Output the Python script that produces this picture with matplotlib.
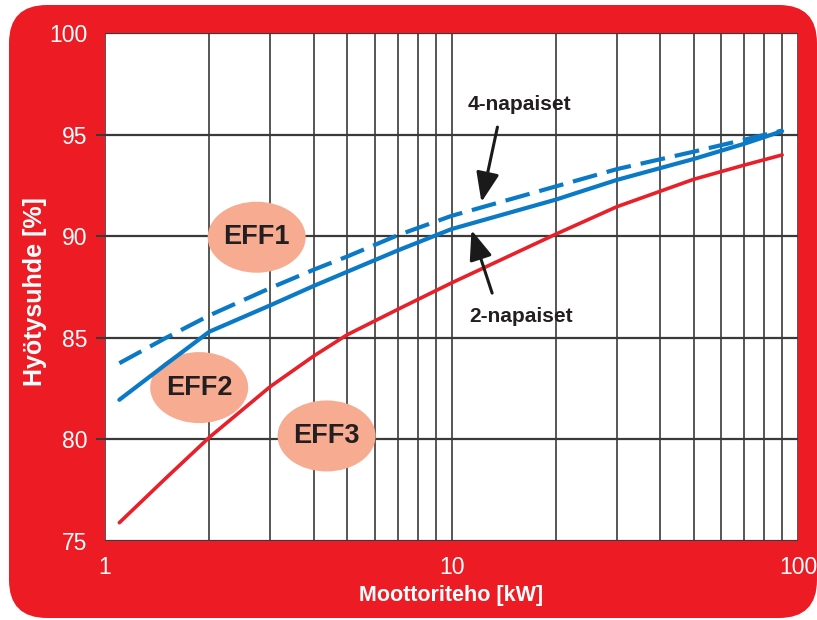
import matplotlib
matplotlib.use("Agg")
import matplotlib.pyplot as plt
from matplotlib.patches import Ellipse, FancyBboxPatch
from matplotlib.ticker import FixedLocator, NullFormatter

# Hyötysuhdeluokat EFF1 / EFF2 / EFF3 moottoritehon funktiona
teho = [1.1, 1.5, 2, 3, 4, 5, 7, 10, 20, 30, 50, 70, 90]
eff3_raja = [75.9, 78.1, 80.1, 82.6, 84.1, 85.15, 86.4, 87.7, 90.1, 91.45, 92.8, 93.5, 94.0]
napaiset_2 = [81.95, 83.7, 85.3, 86.6, 87.55, 88.25, 89.3, 90.35, 91.8, 92.77, 93.8, 94.55, 95.17]
napaiset_4 = [83.75, 85.0, 86.1, 87.45, 88.35, 89.0, 90.05, 91.0, 92.45, 93.3, 94.16, 94.75, 95.2]

luokat = ["EFF1", "EFF2", "EFF3"]
luokka_x = [2.74, 1.87, 4.36]
luokka_y = [89.95, 82.55, 80.17]

y_ticks = [75, 80, 85, 90, 95, 100]
x_ticks = [1, 10, 100]
x_tick_labels = ["1", "10", "100"]

PUNAINEN = "#ED1C24"
SININEN = "#0A7AC6"
LOHI = "#F7AB91"
HARMAA = "#3A3A3A"
FONTIT = ["Liberation Sans", "DejaVu Sans"]

W, H = 817, 620
fig = plt.figure(figsize=(W / 100, H / 100), dpi=100)

# punainen pyöristetty kehys taustalle (pikselikoordinaatit)
bg = fig.add_axes([0, 0, 1, 1], zorder=-1)
bg.set_xlim(0, W)
bg.set_ylim(H, 0)
bg.axis("off")
bg.add_patch(FancyBboxPatch((9, 5), 808, 613, boxstyle="round,pad=0,rounding_size=38",
                            facecolor=PUNAINEN, edgecolor="none"))

ax = fig.add_axes([105 / W, 1 - 541 / H, 693 / W, 508 / H])
ax.set_facecolor("white")
ax.set_xscale("log")
ax.set_xlim(1, 100)
ax.set_ylim(75, 100)
for s in ax.spines.values():
    s.set_visible(False)

ax.set_yticks(y_ticks)
ax.set_xticks(x_ticks)
ax.set_xticklabels(x_tick_labels)
ax.xaxis.set_minor_locator(FixedLocator([2, 3, 4, 5, 6, 7, 8, 9, 20, 30, 40, 50, 60, 70, 80, 90]))
ax.xaxis.set_minor_formatter(NullFormatter())

ax.tick_params(axis="x", which="both", length=0, pad=11, labelsize=16.5, labelcolor="white")
ax.tick_params(axis="y", length=6.5, width=1.5, color=HARMAA, pad=6, labelsize=16.5, labelcolor="white")
for lab in ax.get_xticklabels() + ax.get_yticklabels():
    lab.set_family(FONTIT)
yt = ax.yaxis.get_major_ticks()
yt[0].tick1line.set_visible(False)
yt[-1].tick1line.set_visible(False)

ax.grid(True, axis="y", color=HARMAA, lw=1.6, zorder=1)
ax.grid(True, axis="x", which="both", color=HARMAA, lw=1.2, zorder=1)
ax.set_axisbelow(True)

ax.set_xlabel("Moottoriteho [kW]", color="white", fontsize=15.5, fontweight="bold",
              family=FONTIT, va="center")
ax.xaxis.set_label_coords(0.5, (541 - 595) / 508)
ax.set_ylabel("Hyötysuhde [%]", color="white", fontsize=18, fontweight="bold",
              family=FONTIT, va="center")
ax.yaxis.set_label_coords((35 - 105) / 693, (541 - 292) / 508)

# luokkien soikiot
fig.canvas.draw()
to_axes = ax.transData + ax.transAxes.inverted()
for nimi, lx, ly in zip(luokat, luokka_x, luokka_y):
    cx, cy = to_axes.transform((lx, ly))
    ax.add_patch(Ellipse((cx, cy), 98 / 693, 71 / 508, transform=ax.transAxes,
                         facecolor=LOHI, edgecolor="none", zorder=2))
    ax.text(lx, ly, nimi, ha="center", va="center", fontsize=19.5, fontweight="bold",
            color="#231F20", family=FONTIT, zorder=4)

ax.plot(teho, eff3_raja, color="#E8202A", lw=2.6, solid_capstyle="round", zorder=3)
ax.plot(teho, napaiset_2, color=SININEN, lw=3, solid_capstyle="round", zorder=3)
ax.plot(teho, napaiset_4, color=SININEN, lw=3, linestyle=(0, (6, 2.4)),
        dash_capstyle="butt", zorder=3)

nuoli = dict(arrowstyle="-|>,head_length=0.9,head_width=0.35", color="#1A1A1A", lw=2.2,
             mutation_scale=20, shrinkA=0, shrinkB=0)
ax.annotate("", xy=(12.2, 91.68), xytext=(13.57, 95.37), arrowprops=nuoli, zorder=4)
ax.annotate("", xy=(11.42, 90.3), xytext=(13.1, 87.2), arrowprops=nuoli, zorder=4)
ax.text(15.7, 96.48, "4-napaiset", ha="center", va="center", fontsize=15, fontweight="bold",
        color="#231F20", family=FONTIT, zorder=4)
ax.text(15.9, 86.05, "2-napaiset", ha="center", va="center", fontsize=15, fontweight="bold",
        color="#231F20", family=FONTIT, zorder=4)

fig.savefig("out.png", dpi=100, facecolor="white")
